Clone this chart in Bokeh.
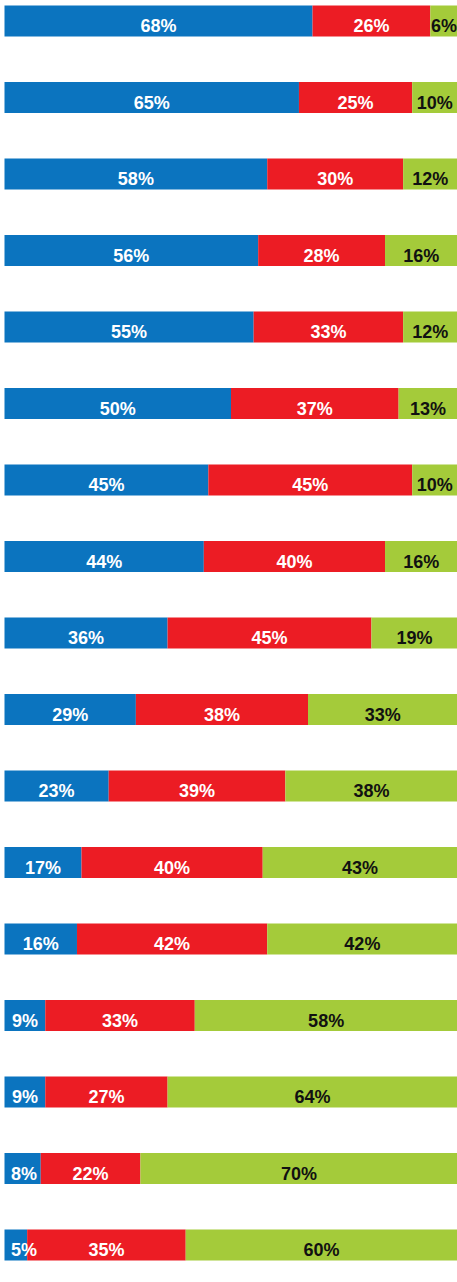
from bokeh.plotting import figure
from bokeh.models import ColumnDataSource, Range1d
from bokeh.core.properties import value
from bokeh.embed import file_html
from bokeh.resources import INLINE

blue_vals = [68, 65, 58, 56, 55, 50, 45, 44, 36, 29, 23, 17, 16, 9, 9, 8, 5]
red_vals = [26, 25, 30, 28, 33, 37, 45, 40, 45, 38, 39, 40, 42, 33, 27, 22, 35]
green_vals = [6, 10, 12, 16, 12, 13, 10, 16, 19, 33, 38, 43, 42, 58, 64, 70, 60]

n = len(blue_vals)
rows = list(range(n))

BLUE = "#0B74BF"
RED = "#EC1C24"
GREEN = "#A4CB3A"

W, H = 457, 1282
left_px = 4.0
top_center = 20.5
step = 76.5

x0 = -left_px / (W - left_px) * 100
y_top = -top_center / step
y_bot = (H - top_center) / step

p = figure(width=W, height=H, output_backend="svg", toolbar_location=None,
           x_range=Range1d(x0, 100), y_range=Range1d(y_bot, y_top),
           min_border=0, min_border_left=0, min_border_right=0,
           min_border_top=0, min_border_bottom=0)
p.axis.visible = False
p.grid.visible = False
p.outline_line_color = None
p.background_fill_color = "white"
p.border_fill_color = "white"

b_end = blue_vals
r_end = [b + r for b, r in zip(blue_vals, red_vals)]
g_end = [b + r + g for b, r, g in zip(blue_vals, red_vals, green_vals)]

src = ColumnDataSource(dict(
    y=rows,
    b0=[0] * n, b1=b_end,
    r0=b_end, r1=r_end,
    g0=r_end, g1=g_end,
    bx=[max(b / 2, 4.3) for b in blue_vals],
    rx=[b + r / 2 for b, r in zip(blue_vals, red_vals)],
    gx=[re + g / 2 for re, g in zip(r_end, green_vals)],
    bl=[f"{v}%" for v in blue_vals],
    rl=[f"{v}%" for v in red_vals],
    gl=[f"{v}%" for v in green_vals],
))

bh = 31 / step
p.hbar(y="y", left="b0", right="b1", height=bh, color=BLUE, line_color=None, source=src)
p.hbar(y="y", left="r0", right="r1", height=bh, color=RED, line_color=None, source=src)
p.hbar(y="y", left="g0", right="g1", height=bh, color=GREEN, line_color=None, source=src)

common = dict(text_font=value("Liberation Sans"), text_font_style="bold",
              text_font_size="18px", text_align="center",
              text_baseline="middle", y_offset=5, source=src)
p.text(x="bx", y="y", text="bl", text_color="white", **common)
p.text(x="rx", y="y", text="rl", text_color="white", **common)
p.text(x="gx", y="y", text="gl", text_color="#111111", **common)

open("out.html", "w").write(file_html(p, INLINE))
